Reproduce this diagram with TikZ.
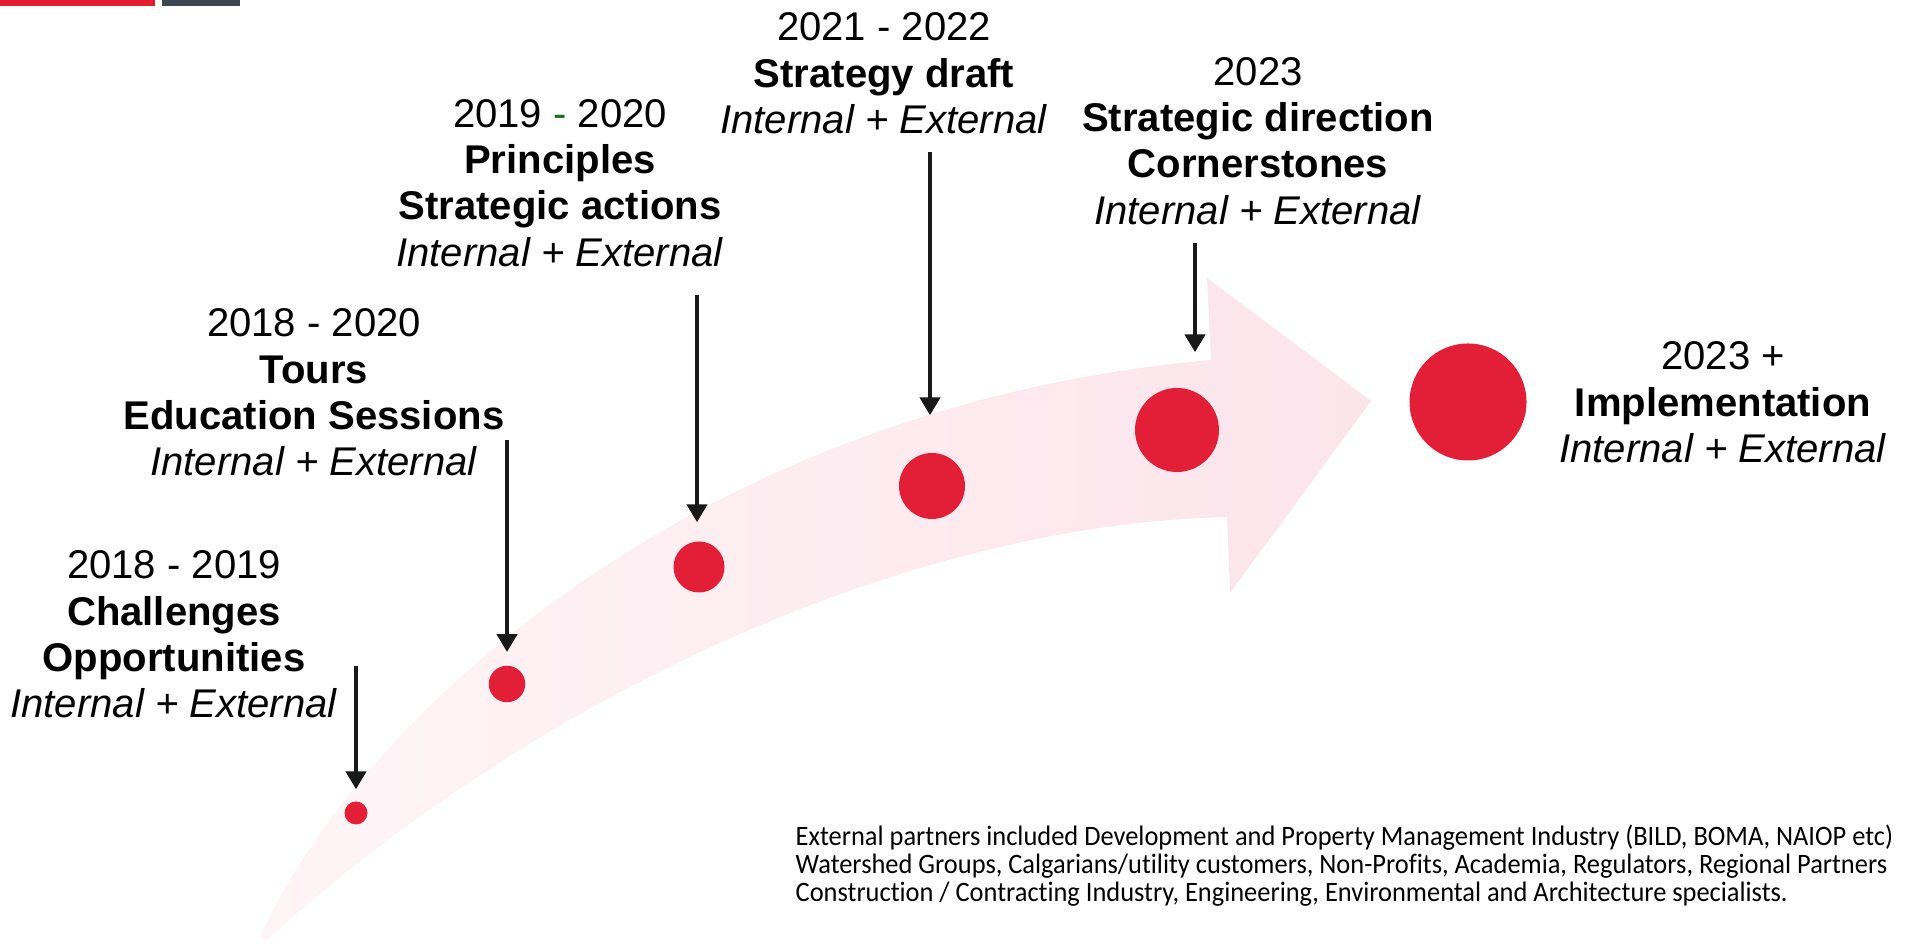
\documentclass[tikz,border=0pt]{standalone}
\usepackage{fontspec}
\setmainfont{Liberation Sans}
\newfontfamily\notefont[FakeStretch=0.94,Ligatures=NoCommon]{Carlito}
\usetikzlibrary{arrows.meta}
\definecolor{dotred}{RGB}{227,30,55}
\definecolor{barred}{RGB}{226,27,47}
\definecolor{bargrey}{RGB}{59,70,80}
\definecolor{pinkarrow}{RGB}{252,228,235}
\definecolor{pinkfade}{RGB}{254,245,247}
\definecolor{dashgreen}{RGB}{30,110,30}

\begin{document}
\begin{tikzpicture}[
  stage/.style={align=center,font=\fontsize{11.4}{13.2}\selectfont},
  reddot/.style={circle,fill=dotred,inner sep=0pt,minimum size=#1},
  marker/.style={->,>={Triangle[width=0.2cm,length=0.18cm]},line width=1.3pt,black!90},
  note/.style={align=left,anchor=west,inner sep=0pt,font=\notefont\fontsize{8}{7.97}\selectfont}
]
\useasboundingbox (0,0) rectangle (19.06,9.45);

\fill[barred] (0,9.39) rectangle (1.55,9.45);
\fill[bargrey] (1.62,9.39) rectangle (2.40,9.45);

\shade[left color=pinkfade,right color=pinkarrow] (2.60,0.08) .. controls (3.6,2.3) and (7.0,5.4) .. (12.11,5.85) -- (12.07,6.67) -- (13.71,5.44) -- (12.30,3.52) -- (12.27,4.28) .. controls (9.0,4.2) and (5.3,2.45) .. (2.66,0.04) -- cycle;

\node[reddot=0.23cm] (d1) at (3.56,1.32) {};
\node[reddot=0.365cm] (d2) at (5.07,2.61) {};
\node[reddot=0.51cm] (d3) at (6.99,3.78) {};
\node[reddot=0.66cm] (d4) at (9.32,4.59) {};
\node[reddot=0.84cm] (d5) at (11.77,5.15) {};
\node[reddot=1.17cm] (d6) at (14.68,5.43) {};

\node[stage] (l1) at (1.74,3.105) {2018 - 2019\\\textbf{Challenges}\\\textbf{Opportunities}\\\textit{Internal + External}};
\node[stage] (l2) at (3.14,5.524) {2018 - 2020\\\textbf{Tours}\\\textbf{Education Sessions}\\\textit{Internal + External}};
\node[stage] (l3) at (5.60,7.621) {2019 {\color{dashgreen}-} 2020\\\textbf{Principles}\\\textbf{Strategic actions}\\\textit{Internal + External}};
\node[stage] (l4) at (8.84,8.715) {2021 - 2022\\\textbf{Strategy draft}\\\textit{Internal + External}};
\node[stage] (l5) at (12.58,8.04) {2023\\\textbf{Strategic direction}\\\textbf{Cornerstones}\\\textit{Internal + External}};
\node[stage] (l6) at (17.23,5.426) {2023 +\\\textbf{Implementation}\\\textit{Internal + External}};

\coordinate (s1) at (3.56,2.79);
\coordinate (s2) at (5.07,5.05);
\coordinate (s3) at (6.97,6.50);
\coordinate (s4) at (9.30,7.93);
\coordinate (s5) at (11.95,7.02);
\draw[marker,shorten >=0.115cm] (s1) -- (s1 |- d1.north);
\draw[marker,shorten >=0.13cm] (s2) -- (s2 |- d2.north);
\draw[marker,shorten >=0.185cm] (s3) -- (s3 |- d3.north);
\draw[marker,shorten >=0.37cm] (s4) -- (s4 |- d4.north);
\draw[marker,shorten >=0.35cm] (s5) -- (s5 |- d5.north);

\node[note] (partners) at (7.95,0.795) {External partners included Development and Property Management Industry (BILD, BOMA, NAIOP etc)\\Watershed Groups, Calgarians/utility customers, Non-Profits, Academia, Regulators, Regional Partners\\Construction / Contracting Industry, Engineering, Environmental and Architecture specialists.};

\end{tikzpicture}
\end{document}
